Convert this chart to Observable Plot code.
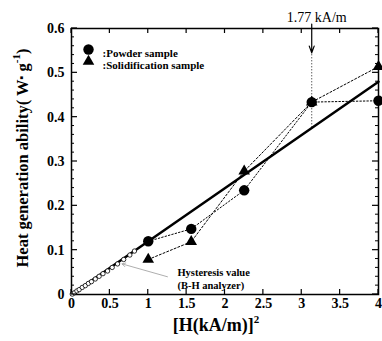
<!DOCTYPE html>
<html><head><meta charset="utf-8">
<script src="https://cdn.jsdelivr.net/npm/d3@7"></script>
<script src="https://cdn.jsdelivr.net/npm/@observablehq/plot@0.6"></script>
<style>body{margin:0;background:#fff}</style>
</head><body><div id="chart"></div>
<script>
// ---- data ----
const hSquared   = [1, 1.56, 2.25, 3.13, 4];
const powderVals = [0.12, 0.148, 0.235, 0.434, 0.437];
const solidVals  = [0.079, 0.119, 0.278, 0.434, 0.514];
const hystX = [0.01, 0.04, 0.07, 0.10, 0.14, 0.18, 0.22, 0.26, 0.31, 0.36, 0.41, 0.47, 0.53, 0.60, 0.68, 0.76, 0.82];
const hystY = [0.001, 0.004, 0.008, 0.011, 0.016, 0.020, 0.025, 0.029, 0.035, 0.041, 0.047, 0.053, 0.061, 0.069, 0.079, 0.089, 0.098];
const fitX = [0, 4];
const fitY = [0, 0.48];
const markerH = 3.13;          // (1.77 kA/m)^2
const markerLow = 0.376, markerHigh = 0.545, arrowTop = 0.61;
const leaderFrom = [1.25, 0.04], leaderTo = [0.66, 0.069];
const xTicks = [0, 0.5, 1, 1.5, 2, 2.5, 3, 3.5, 4];
const yTicks = [0, 0.1, 0.2, 0.3, 0.4, 0.5, 0.6];
const yMinor = [0.02, 0.04, 0.06, 0.08, 0.12, 0.14, 0.16, 0.18, 0.22, 0.24, 0.26, 0.28,
                0.32, 0.34, 0.36, 0.38, 0.42, 0.44, 0.46, 0.48, 0.52, 0.54, 0.56, 0.58];

const powder = hSquared.map((x, i) => ({x, y: powderVals[i]}));
const solid  = hSquared.map((x, i) => ({x, y: solidVals[i]}));
const hyst   = hystX.map((x, i) => ({x, y: hystY[i]}));
const fit    = fitX.map((x, i) => ({x, y: fitY[i]}));

const FONT = "Liberation Serif, Times New Roman, serif";

const plot = Plot.plot({
  width: 382, height: 341,
  marginLeft: 71, marginRight: 4, marginTop: 28, marginBottom: 47,
  style: {fontFamily: FONT, background: "#fff", overflow: "visible"},
  x: {domain: [0, 4]},
  y: {domain: [0, 0.6]},
  marks: [
    Plot.axisX(xTicks, {anchor: "bottom", tickSize: 0, tickPadding: 4, label: null, fontSize: 14, fontWeight: "bold", tickFormat: d => String(d)}),
    Plot.axisY(yTicks, {anchor: "left", tickSize: 0, tickPadding: 7, label: null, fontSize: 14, fontWeight: "bold", tickFormat: d => String(d)}),
    Plot.frame({stroke: "black", strokeWidth: 1.5}),
    // fit line
    Plot.line(fit, {x: "x", y: "y", stroke: "black", strokeWidth: 2.5}),
    // marker line
    Plot.ruleX([markerH], {y1: markerLow, y2: markerHigh, stroke: "black", strokeWidth: 0.9, strokeDasharray: "1,2"}),
    Plot.arrow([0], {x1: markerH, x2: markerH, y1: arrowTop, y2: markerHigh, stroke: "black", strokeWidth: 1.2, headLength: 9, headAngle: 40, clip: false}),
    Plot.text(["1.77 kA/m"], {x: markerH, frameAnchor: "top", dy: -16, dx: 5, fontSize: 14, fill: "black", clip: false}),
    // dashed series lines
    Plot.line(solid, {x: "x", y: "y", stroke: "black", strokeWidth: 1, strokeDasharray: "2,2"}),
    Plot.line(powder, {x: "x", y: "y", stroke: "black", strokeWidth: 1, strokeDasharray: "1.5,2"}),
    // hysteresis
    Plot.dot(hyst, {x: "x", y: "y", r: 2.2, stroke: "black", fill: "white", strokeWidth: 0.8}),
    Plot.arrow([0], {x1: leaderFrom[0], y1: leaderFrom[1], x2: leaderTo[0], y2: leaderTo[1], stroke: "#999", strokeWidth: 0.8, headLength: 7, headAngle: 60}),
    Plot.text(["Hysteresis value", "(B-H analyzer)"], {x: 1.38, y: (d, i) => i === 0 ? 0.049 : 0.021, textAnchor: "start", fontSize: 10.5, fontWeight: "bold", fill: "black"}),
    // series points
    Plot.dot(solid, {x: "x", y: "y", symbol: "triangle", r: 4.3, fill: "black"}),
    Plot.dot(powder, {x: "x", y: "y", symbol: "circle", r: 5.2, fill: "black"}),
    // legend
    Plot.dot(["Powder sample"], {frameAnchor: "top-left", dx: 17, dy: 21, r: 5.2, fill: "black", symbol: "circle"}),
    Plot.dot(["Solidification sample"], {frameAnchor: "top-left", dx: 17, dy: 33, r: 4.3, fill: "black", symbol: "triangle"}),
    Plot.text([":Powder sample"], {frameAnchor: "top-left", dx: 31, dy: 21, textAnchor: "start", fontSize: 11, fontWeight: "bold", fill: "black"}),
    Plot.text([":Solidification sample"], {frameAnchor: "top-left", dx: 31, dy: 33, textAnchor: "start", fontSize: 11, fontWeight: "bold", fill: "black"})
  ]
});

document.getElementById("chart").appendChild(plot);

const svg = d3.select(plot);
const sx = plot.scale("x"), sy = plot.scale("y");
const [x0, x1] = sx.range, [y0, y1] = sy.range; // y0 bottom, y1 top
const tickG = svg.append("g").attr("stroke", "black").attr("stroke-width", 1.2);
for (const t of xTicks) {
  const px = sx.apply(t);
  tickG.append("line").attr("x1", px).attr("x2", px).attr("y1", y0).attr("y2", y0 - 5);
  tickG.append("line").attr("x1", px).attr("x2", px).attr("y1", y1).attr("y2", y1 + 5);
}
for (const t of yTicks) {
  const py = sy.apply(t);
  tickG.append("line").attr("x1", x0).attr("x2", x0 + 6).attr("y1", py).attr("y2", py);
  tickG.append("line").attr("x1", x1).attr("x2", x1 - 6).attr("y1", py).attr("y2", py);
}
for (const t of yMinor) {
  const py = sy.apply(t);
  tickG.append("line").attr("x1", x0).attr("x2", x0 + 3).attr("y1", py).attr("y2", py).attr("stroke-width", 1);
  tickG.append("line").attr("x1", x1).attr("x2", x1 - 3).attr("y1", py).attr("y2", py).attr("stroke-width", 1);
}

// x-axis label
const xl = svg.append("text")
  .attr("x", 216).attr("y", 331)
  .attr("text-anchor", "middle")
  .attr("font-family", FONT).attr("font-weight", "bold").attr("font-size", 18).attr("fill", "black");
xl.append("tspan").text("[H(kA/m)]");
xl.append("tspan").attr("dy", -8).attr("font-size", 11).text("2");

// y-axis label
const yl = svg.append("text")
  .attr("transform", "translate(28,158) rotate(-90)")
  .attr("text-anchor", "middle")
  .attr("font-family", FONT).attr("font-weight", "bold").attr("font-size", 16.5).attr("fill", "black");
yl.append("tspan").text("Heat generation ability( W");
yl.append("tspan").attr("font-size", 11).attr("dy", -3).text("\u25AA");
yl.append("tspan").attr("dy", 3).text(" g");
yl.append("tspan").attr("font-size", 11).attr("dy", -8).text("-1");
yl.append("tspan").attr("dy", 8).text(")");
</script>
</body></html>
